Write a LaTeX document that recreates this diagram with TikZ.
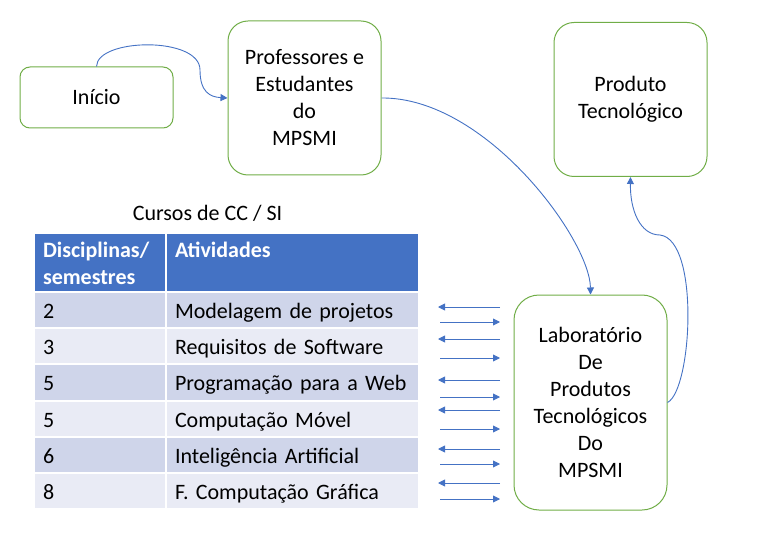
\documentclass[tikz,border=0pt]{standalone}
\usepackage{fontspec}
\setmainfont{Carlito}
\usetikzlibrary{arrows.meta}

\definecolor{azul}{HTML}{4472C4}
\definecolor{verde}{HTML}{70AD47}
\definecolor{linhaEscura}{HTML}{CFD5EA}
\definecolor{linhaClara}{HTML}{E9EBF5}

\begin{document}
\begin{tikzpicture}[x=1pt,y=-1pt]
%============================================================
%  Estilos das caixas, celulas da tabela e setas
%============================================================
\tikzset{ % sem linha em branco aqui!
    % ---  Define setas ------
    >={Triangle[length=7pt,width=7pt]},
    arco/.style={ %
            ->,            % seta no final
            azul,          % cor da seta
            line width=0.9pt
        },
    % ---  Define caixas ------
    caixa/.style={ %
            rectangle,     % formato retangular
            rounded corners=20pt,
            draw=verde,    % contorno verde
            line width=1pt,
            minimum width=153pt,
            minimum height=154pt,
            align=center,
            font=\fontsize{22}{27}\selectfont
        },
    % ---  Define tabela ------
    celula/.style={ %
            rectangle,
            draw=white,    % separa as celulas
            line width=2pt,
            minimum height=36.17pt,
            inner xsep=9pt,
            align=left,
            font=\fontsize{22}{27}\selectfont
        },
    corpo/.style={ %
            celula,
            text height=19pt, % linha de base um pouco abaixo do centro
            text depth=2pt
        },
    cabecalho/.style={ %
            celula,
            fill=azul,
            minimum height=60pt,
            text=white,
            font=\fontsize{22}{27}\selectfont\bfseries
        },
    texto/.style={ %
            font=\fontsize{22}{27}\selectfont
        }
}
\useasboundingbox (0,0) rectangle (757,545);

   % caixas do fluxo
   \node[caixa,rounded corners=10pt,minimum height=61pt] (inicio) at (96.5,97.5) {Início};
   \node[caixa] (prof) at (304.5,98) {Professores e\\Estudantes\\do\\MPSMI};
   \node[caixa] (produto) at (630.5,99.5) {Produto\\Tecnológico};
   \node[caixa,rounded corners=25pt,minimum height=215pt] (lab) at (590.5,402.5) {Laboratório\\De\\Produtos\\Tecnológicos\\Do\\MPSMI};

   % tabela de disciplinas
   \node[texto] (titulo) at (207.5,213) {Cursos de CC / SI};
   \node[cabecalho,minimum width=132pt,text width=114pt] (cabSem) at (100,263) {Disciplinas/\\semestres};
   \node[cabecalho,minimum width=253pt,text width=235pt] (cabAtiv) at (292.5,263) {Atividades\\\mbox{}};
   \foreach \sem/\ativ/\cor [count=\i] in {2/Modelagem de projetos/linhaEscura,
                                           3/Requisitos de Software/linhaClara,
                                           5/Programação para a Web/linhaEscura,
                                           5/Computação Móvel/linhaClara,
                                           6/Inteligência Artificial/linhaEscura,
                                           8/F. Computação Gráfica/linhaClara}{
      \pgfmathsetmacro\yc{292+36.17*(\i-0.5)}
      \node[corpo,fill=\cor,minimum width=132pt,text width=114pt] (sem\i) at (100,\yc) {\sem};
      \node[corpo,fill=\cor,minimum width=253pt,text width=235pt] (ativ\i) at (292.5,\yc) {\ativ};
   }

   % setas entre tabela e laboratorio
   \foreach \ya/\yb [count=\i] in {307/322,339/358,380/397,410/429,449/464,483/499}{
      \coordinate (labA\i) at (500,\ya);
      \coordinate (tabA\i) at (438,\ya);
      \coordinate (tabB\i) at (440,\yb);
      \coordinate (labB\i) at (500,\yb);
      \draw[arco] (labA\i) -- (tabA\i);
      \draw[arco] (tabB\i) -- (labB\i);
   }

   % conectores curvos
   \draw[arco] (inicio.north) .. controls (97,38) and (200,36) .. (200,70)
                              .. controls (200,92) and (210,97) .. (prof.west);
   \draw[arco] (prof.east) .. controls (486,97) and (590,240) .. (lab.north);
   \draw[arco] (lab.east) .. controls (692,390) and (700,240) .. (660,235)
                          .. controls (640,235) and (630,210) .. (produto.south);
\end{tikzpicture}
\end{document}
